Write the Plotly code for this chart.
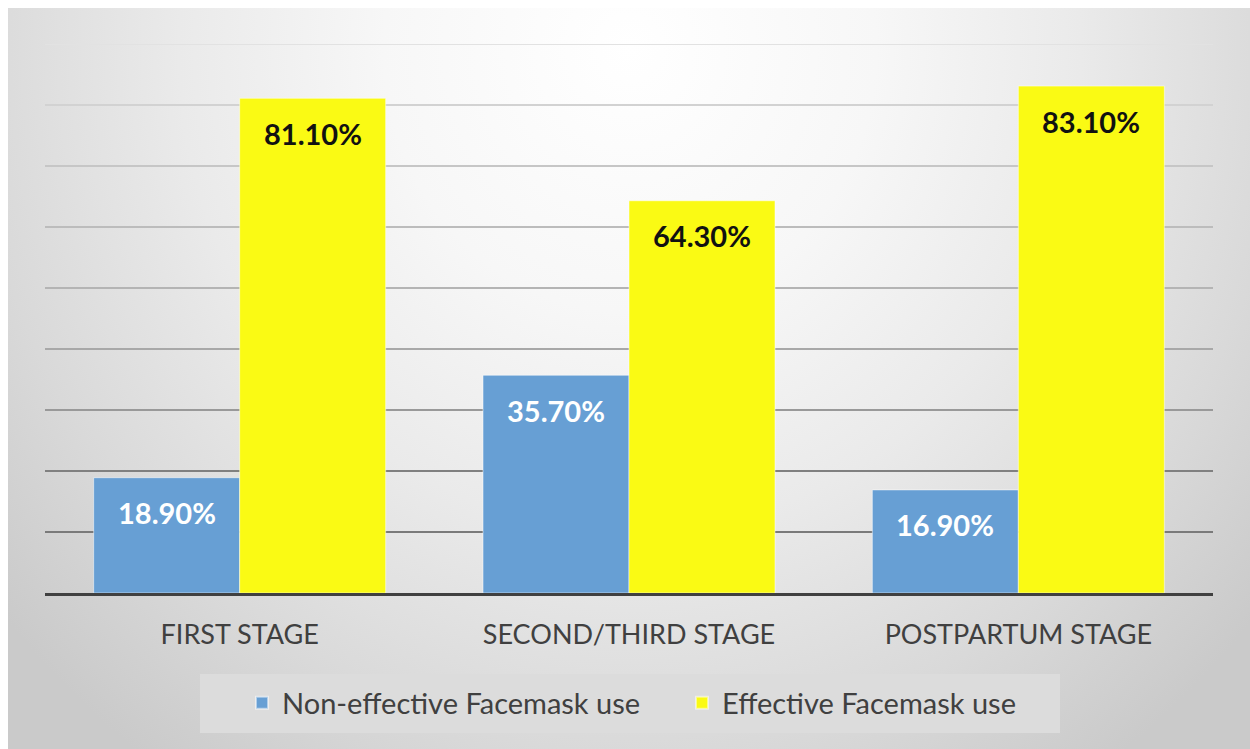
import base64
import plotly.graph_objects as go

categories = ["FIRST STAGE", "SECOND/THIRD STAGE", "POSTPARTUM STAGE"]
non_effective = [0.189, 0.357, 0.169]
effective = [0.811, 0.643, 0.831]
series_names = ["Non-effective Facemask use", "Effective Facemask use"]
y_max = 0.9
grid_values = [i / 10 for i in range(1, 10)]

W, H = 1250, 749
ML, MR, MT, MB = 45, 37, 44, 156
PW, PH = W - ML - MR, H - MT - MB

BLUE = "#679fd4"
YELLOW = "#fafa14"
FONT = "Lato"

svg = (
    '<svg xmlns="http://www.w3.org/2000/svg" width="1242" height="741" '
    'viewBox="0 0 1242 741" preserveAspectRatio="none">'
    '<defs><radialGradient id="g" gradientUnits="userSpaceOnUse" cx="0" cy="0" r="1" '
    'gradientTransform="translate(622,40) scale(820,880)">'
    '<stop offset="0" stop-color="#ffffff"/>'
    '<stop offset="0.3" stop-color="#f7f7f7"/>'
    '<stop offset="0.55" stop-color="#eaeaea"/>'
    '<stop offset="0.8" stop-color="#d9d9d9"/>'
    '<stop offset="1" stop-color="#cacaca"/>'
    '</radialGradient></defs>'
    '<rect width="1242" height="741" fill="url(#g)"/></svg>'
)
svg_uri = "data:image/svg+xml;base64," + base64.b64encode(svg.encode()).decode()

fig = go.Figure()
fig.add_trace(go.Bar(
    x=categories, y=non_effective, name=series_names[0],
    marker=dict(color=BLUE, line=dict(color="rgba(255,255,255,0.5)", width=1)),
    hoverinfo="skip",
))
fig.add_trace(go.Bar(
    x=categories, y=effective, name=series_names[1],
    marker=dict(color=YELLOW, line=dict(color="rgba(255,255,255,0.5)", width=1)),
    hoverinfo="skip",
))

shift = PW / len(categories) * 0.75 / 4
for cat, v in zip(categories, non_effective):
    fig.add_annotation(x=cat, y=v, xref="x", yref="y", text=f"<b>{v*100:.2f}%</b>",
                       showarrow=False, xshift=-shift, yshift=-35, yanchor="middle",
                       font=dict(family=FONT, size=29, color="white"))
for cat, v in zip(categories, effective):
    fig.add_annotation(x=cat, y=v, xref="x", yref="y", text=f"<b>{v*100:.2f}%</b>",
                       showarrow=False, xshift=shift, yshift=-35, yanchor="middle",
                       font=dict(family=FONT, size=29, color="#111111"))

grid_colors = ["#7a7a7a", "#808080", "#999999", "#a8a8a8", "#b4b4b4",
               "#bcbcbc", "#c6c6c6", "#d2d2d2", "#e2e2e2"]
for gv, gc in zip(grid_values, grid_colors):
    fig.add_shape(type="line", xref="paper", x0=0, x1=1, yref="y", y0=gv, y1=gv,
                  line=dict(color=gc, width=2), layer="below")

# legend box
fig.add_shape(type="rect", xref="paper", yref="paper",
              x0=(200 - ML) / PW, x1=(1060 - ML) / PW,
              y0=-(674 - (MT + PH)) / PH, y1=-(733 - (MT + PH)) / PH,
              fillcolor="#dcdcdc", line=dict(width=0), layer="below")

fig.add_layout_image(dict(
    source=svg_uri, xref="paper", yref="paper",
    x=(8 - ML) / PW, y=1 + (MT - 8) / PH,
    sizex=(W - 8) / PW, sizey=(H - 8) / PH,
    xanchor="left", yanchor="top", sizing="stretch", layer="below",
))

fig.update_layout(
    width=W, height=H,
    margin=dict(l=ML, r=MR, t=MT, b=MB),
    paper_bgcolor="white", plot_bgcolor="rgba(0,0,0,0)",
    barmode="group", bargap=0.25, bargroupgap=0,
    font=dict(family=FONT, color="#404040"),
    showlegend=True,
    legend=dict(orientation="h", x=(682 - ML) / PW, xanchor="center",
                y=-(703 - (MT + PH)) / PH, yanchor="middle",
                bgcolor="rgba(0,0,0,0)", font=dict(family=FONT, size=29, color="#404040"),
                entrywidth=395, itemsizing="constant"),
    xaxis=dict(showline=True, linecolor="#404040", linewidth=3, ticks="",
               tickfont=dict(family=FONT, size=27, color="#404040"),
               ticklabelstandoff=16, showgrid=False, fixedrange=True),
    yaxis=dict(range=[0, y_max], showgrid=False, zeroline=False, showticklabels=False,
               fixedrange=True),
)

fig.write_html("out.html")
